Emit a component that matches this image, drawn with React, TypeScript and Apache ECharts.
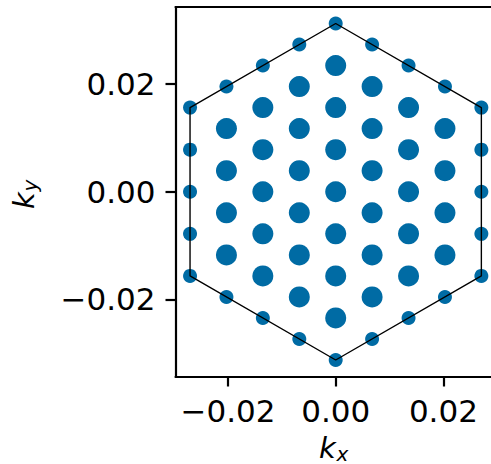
import React, { useEffect, useRef } from "react";
import * as echarts from "echarts";

// k-points on the boundary of the Brillouin zone (small markers)
const boundaryKx = [0, 0, -0.00676, 0.00676, -0.00676, 0.00676, -0.01353, 0.01353, -0.01353, 0.01353, -0.02029, 0.02029, -0.02029, 0.02029, -0.02705, -0.02705, -0.02705, -0.02705, -0.02705, 0.02705, 0.02705, 0.02705, 0.02705, 0.02705];
const boundaryKy = [0.03124, -0.03124, 0.02734, 0.02734, -0.02734, -0.02734, 0.02343, 0.02343, -0.02343, -0.02343, 0.01953, 0.01953, -0.01953, -0.01953, 0.01562, 0.00781, 0, -0.00781, -0.01562, 0.01562, 0.00781, 0, -0.00781, -0.01562];

// k-points inside the Brillouin zone (large markers)
const interiorKx = [0, 0, 0, 0, 0, 0, 0,
  -0.00676, -0.00676, -0.00676, -0.00676, -0.00676, -0.00676,
  0.00676, 0.00676, 0.00676, 0.00676, 0.00676, 0.00676,
  -0.01353, -0.01353, -0.01353, -0.01353, -0.01353,
  0.01353, 0.01353, 0.01353, 0.01353, 0.01353,
  -0.02029, -0.02029, -0.02029, -0.02029,
  0.02029, 0.02029, 0.02029, 0.02029];
const interiorKy = [0.02343, 0.01562, 0.00781, 0, -0.00781, -0.01562, -0.02343,
  0.01953, 0.01172, 0.00391, -0.00391, -0.01172, -0.01953,
  0.01953, 0.01172, 0.00391, -0.00391, -0.01172, -0.01953,
  0.01562, 0.00781, 0, -0.00781, -0.01562,
  0.01562, 0.00781, 0, -0.00781, -0.01562,
  0.01172, 0.00391, -0.00391, -0.01172,
  0.01172, 0.00391, -0.00391, -0.01172];

// Hexagon (Brillouin zone boundary), closed
const hexKx = [0, 0.02705, 0.02705, 0, -0.02705, -0.02705, 0];
const hexKy = [0.03124, 0.01562, -0.01562, -0.03124, -0.01562, 0.01562, 0.03124];

const xTicks = [-0.02, 0, 0.02];
const yTicks = [-0.02, 0, 0.02];

const COLOR = "#006BA4";
const FONT = "DejaVu Sans";
const FS = 31;
const LFS = 29;

const fmt = (v: number) => (v < 0 ? "\u2212" : "") + Math.abs(v).toFixed(2);

export default function App() {
  const ref = useRef<HTMLDivElement>(null);
  useEffect(() => {
    document.body.style.margin = "0";
    const chart = echarts.init(ref.current!, null, { renderer: "svg" });
    const zip = (xs: number[], ys: number[]) => xs.map((x, i) => [x, ys[i]]);
    const axisLine = { show: true, onZero: false, lineStyle: { color: "#000", width: 2.2 } };
    chart.setOption({
      animation: false,
      backgroundColor: "#fff",
      grid: { left: 175.5, top: 7, width: 320.4, height: 369.5, containLabel: false, outerBoundsMode: "none" },
      xAxis: [
        {
          type: "value",
          min: -0.02975,
          max: 0.02975,
          position: "bottom",
          axisLine,
          axisTick: { show: true, length: 10, lineStyle: { color: "#000", width: 2.2 }, customValues: xTicks },
          axisLabel: { customValues: xTicks, formatter: fmt, fontSize: FS, fontFamily: FONT, color: "#000", margin: 19 },
          splitLine: { show: false },
        },
        {
          type: "value",
          min: -0.02975,
          max: 0.02975,
          position: "top",
          axisLine,
          axisTick: { show: false },
          axisLabel: { show: false },
          splitLine: { show: false },
        },
      ],
      yAxis: {
        type: "value",
        min: -0.0343,
        max: 0.0343,
        position: "left",
        axisLine,
        axisTick: { show: true, length: 10, lineStyle: { color: "#000", width: 2.2 }, customValues: yTicks },
        axisLabel: { customValues: yTicks, formatter: fmt, fontSize: FS, fontFamily: FONT, color: "#000", margin: 20 },
        splitLine: { show: false },
      },
      series: [
        {
          type: "scatter",
          data: zip(boundaryKx, boundaryKy),
          symbolSize: 14,
          itemStyle: { color: COLOR, opacity: 1 },
          z: 2,
        },
        {
          type: "scatter",
          data: zip(interiorKx, interiorKy),
          symbolSize: 21,
          itemStyle: { color: COLOR, opacity: 1 },
          z: 2,
        },
        {
          type: "line",
          data: zip(hexKx, hexKy),
          symbol: "none",
          lineStyle: { color: "#000", width: 1.4 },
          z: 3,
        },
      ],
      graphic: [
        {
          type: "group",
          x: 319,
          y: 448,
          children: [
            { type: "text", x: 0, y: 0, style: { text: "k", font: `italic ${LFS}px '${FONT}'`, lineHeight: 24, fill: "#000", align: "left", verticalAlign: "middle" } },
            { type: "text", x: 17.5, y: 5.5, style: { text: "x", font: `italic 20px '${FONT}'`, lineHeight: 14, fill: "#000", align: "left", verticalAlign: "middle" } },
          ],
        },
        {
          type: "group",
          x: 24,
          y: 209,
          rotation: Math.PI / 2,
          children: [
            { type: "text", x: 0, y: 0, style: { text: "k", font: `italic ${LFS}px '${FONT}'`, lineHeight: 24, fill: "#000", align: "left", verticalAlign: "middle" } },
            { type: "text", x: 17.5, y: 5.5, style: { text: "y", font: `italic 20px '${FONT}'`, lineHeight: 14, fill: "#000", align: "left", verticalAlign: "middle" } },
          ],
        },
      ],
    });
    return () => chart.dispose();
  }, []);
  return <div ref={ref} style={{ position: "absolute", left: 0, top: 0, width: 491, height: 464 }} />;
}
